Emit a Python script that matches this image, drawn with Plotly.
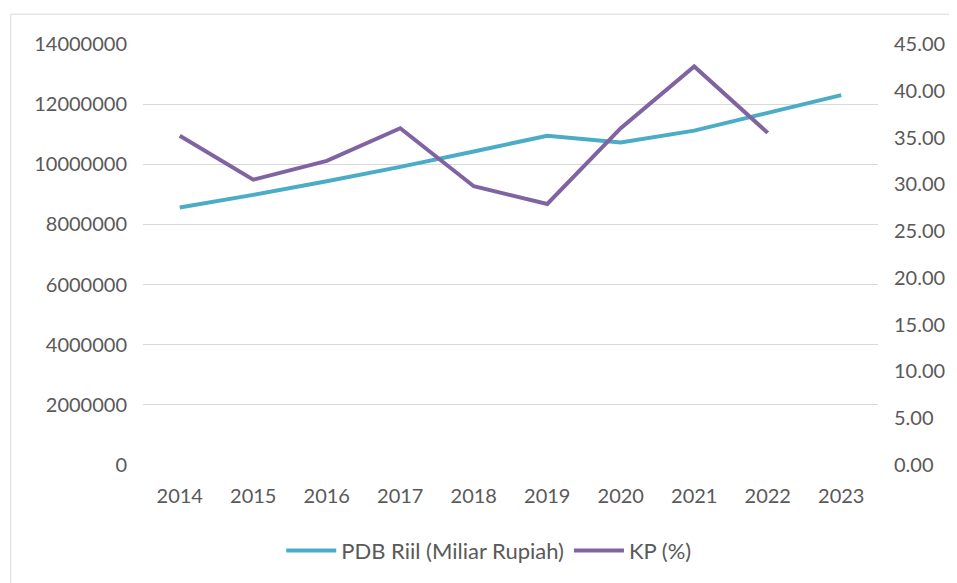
import plotly.graph_objects as go

years = ["2014", "2015", "2016", "2017", "2018", "2019", "2020", "2021", "2022", "2023"]
pdb_riil = [8564867, 8982517, 9434613, 9912928, 10425852, 10949155, 10722999, 11120078, 11710398, 12301393]
kp = [35.2, 30.5, 32.5, 36.0, 29.8, 27.9, 36.0, 42.6, 35.5, None]

left_ticks = [0, 2000000, 4000000, 6000000, 8000000, 10000000, 12000000, 14000000]
right_ticks = [0, 5, 10, 15, 20, 25, 30, 35, 40, 45]

FONT = "Lato"
TXT = "#595959"
OFF = 8  # page body margin
W, H = 957 - OFF, 583 - OFF
L, R, T, B = 143 - OFF, 75, 44 - OFF, 116
pw, ph = W - L - R, H - T - B

fig = go.Figure()
fig.add_trace(go.Scatter(x=years, y=pdb_riil, mode="lines", name="PDB Riil (Miliar Rupiah)",
                         line=dict(color="#4bacc6", width=4), yaxis="y"))
fig.add_trace(go.Scatter(x=years, y=kp, mode="lines", name="KP (%)",
                         line=dict(color="#8064a2", width=4), yaxis="y2", connectgaps=False))

def px_x(p):
    return (p - OFF - L) / pw

def px_y(p):
    return (H - B - (p - OFF)) / ph

fig.add_shape(type="rect", xref="paper", yref="paper",
              x0=px_x(10), x1=px_x(955), y0=px_y(600), y1=px_y(14),
              line=dict(color="#d9d9d9", width=1), fillcolor="rgba(0,0,0,0)", layer="below")

fig.update_layout(
    width=W, height=H,
    margin=dict(l=L, r=R, t=T, b=B),
    paper_bgcolor="white", plot_bgcolor="white",
    font=dict(family=FONT, size=20, color=TXT),
    showlegend=True,
    legend=dict(orientation="h", x=px_x(282), xanchor="left", y=px_y(553), yanchor="middle",
                font=dict(family=FONT, size=22, color=TXT), itemwidth=50, tracegroupgap=0,
                bgcolor="rgba(0,0,0,0)"),
    xaxis=dict(type="category", range=[-0.5, 9.5], showgrid=False, showline=False,
               zeroline=False, ticks="", ticklabelstandoff=17,
               tickfont=dict(family=FONT, size=20, color=TXT)),
    yaxis=dict(range=[0, 14000000], tickvals=left_ticks, ticktext=[str(v) for v in left_ticks],
               showgrid=True, gridcolor="#d9d9d9", gridwidth=1, zeroline=False, showline=False,
               ticks="", ticklabelstandoff=15, tickfont=dict(family=FONT, size=20, color=TXT)),
    yaxis2=dict(range=[0, 45], tickvals=right_ticks, ticktext=[f"{v:.2f}" for v in right_ticks],
                overlaying="y", side="right", showgrid=False, zeroline=False, showline=False,
                ticks="", ticklabelstandoff=15, tickfont=dict(family=FONT, size=20, color=TXT)),
)

fig.write_html("out.html")
